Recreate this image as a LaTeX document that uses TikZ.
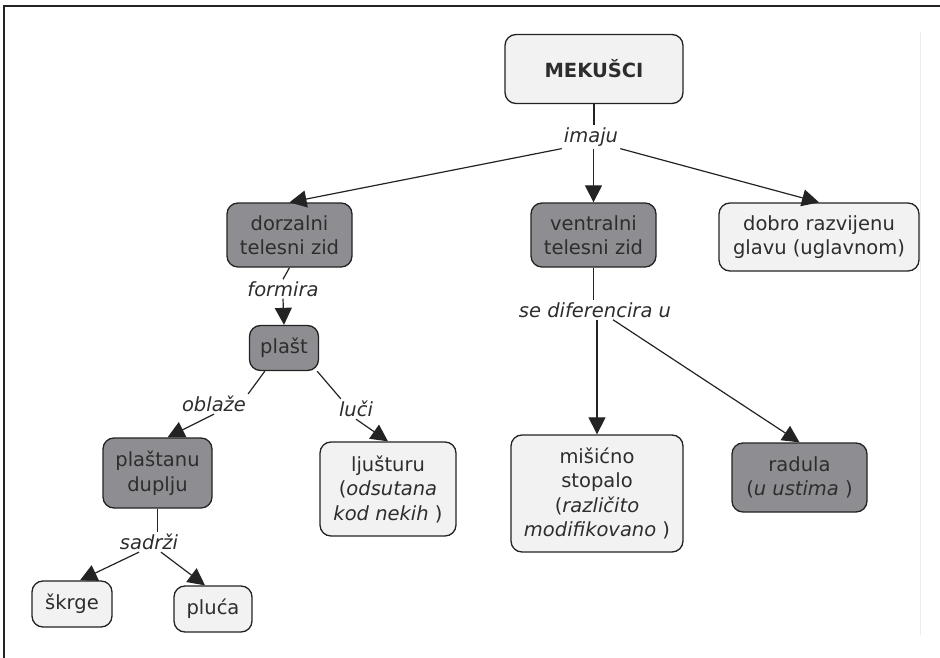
\documentclass[tikz,border=0pt]{standalone}
\usepackage{fontspec}
\setmainfont{DejaVu Sans}
\usetikzlibrary{arrows.meta}
\definecolor{txt}{RGB}{45,45,45}
\definecolor{darkfill}{RGB}{142,142,146}
\definecolor{lightfill}{RGB}{242,242,242}
\definecolor{edge}{RGB}{35,35,35}
\tikzset{
  box/.style={draw=edge, line width=1.3pt, rounded corners=11pt, align=center,
    text=txt, font=\fontsize{19.5}{24.5}\selectfont, inner sep=0pt},
  dbox/.style={box, fill=darkfill},
  lbox/.style={box, fill=lightfill},
  lbl/.style={font=\fontsize{19.5}{24.5}\selectfont\itshape, text=txt, inner sep=2pt},
  con/.style={draw=edge, line width=1.2pt},
  arr/.style={con, -{Triangle[length=17pt,width=17pt]}},
}
\begin{document}
\begin{tikzpicture}[x=1pt,y=-1pt]
\useasboundingbox (0,0) rectangle (940,658);
% frame
\draw[line width=1.4pt, color=edge] (4,658) -- (4,6) -- (940,6);
\draw[line width=1pt, color=black!7] (920,32) -- (920,635);

% nodes
\node[lbox, minimum width=178, minimum height=69, font=\fontsize{19.5}{24.5}\selectfont\bfseries] (mek) at (594,69) {MEKUŠCI};
\node[lbl] (imaju) at (591,137) {imaju};
\node[dbox, minimum width=125, minimum height=64] (dor) at (289.5,235) {dorzalni\\telesni zid};
\node[dbox, minimum width=125, minimum height=64] (ven) at (593.5,235) {ventralni\\telesni zid};
\node[lbox, minimum width=200, minimum height=68] (dob) at (819,237) {dobro razvijenu\\glavu (uglavnom)};
\node[lbl] (formira) at (283,289) {formira};
\node[dbox, minimum width=69, minimum height=45] (plast) at (284,348) {plašt};
\node[lbl] (oblaze) at (214,404) {oblaže};
\node[lbl] (luci) at (356,409) {luči};
\node[dbox, minimum width=109, minimum height=70] (pdup) at (157.5,473) {plaštanu\\duplju};
\node[lbox, minimum width=136, minimum height=94] (lju) at (388,489) {ljušturu\\(\textit{odsutana}\\\textit{kod nekih} )};
\node[lbl] (sadrzi) at (149,542) {sadrži};
\node[lbox, minimum width=80, minimum height=46] (skr) at (72,604) {škrge};
\node[lbox, minimum width=78, minimum height=46] (plu) at (213,609) {pluća};
\node[lbl] (sedif) at (595,310) {se diferencira u};
\node[lbox, minimum width=172, minimum height=117] (mis) at (597,493.5) {mišićno\\stopalo\\(\textit{različito}\\\textit{modifikovano} )};
\node[dbox, minimum width=135, minimum height=69] (rad) at (799.5,477.5) {radula\\(\textit{u ustima} )};

% connectors
\draw[con] (mek.south) -- (imaju.north -| mek.south);
\draw[arr] (imaju.south west) -- (dor.north);
\draw[arr] (imaju.south -| ven.north) -- (ven.north);
\draw[arr] (imaju.south east) -- (dob.north);
\draw[con] (dor.south) -- (formira.north);
\draw[arr] (formira.south) -- (plast.north);
\draw[con] ([xshift=16pt]plast.south west) -- (oblaze.north east);
\draw[arr] (oblaze.south) -- ([xshift=10pt]pdup.north);
\draw[con] ([xshift=-2pt]plast.south east) -- ([xshift=4pt]luci.north west);
\draw[arr] (luci.south) -- (lju.north);
\draw[con] (pdup.south) -- (sadrzi.north -| pdup.south);
\draw[arr] ([xshift=-10pt]sadrzi.south) -- ([xshift=8pt]skr.north);
\draw[arr] ([xshift=12pt]sadrzi.south) -- ([xshift=-8pt]plu.north);
\draw[con] (ven.south) -- (sedif.north -| ven.south);
\draw[arr] (sedif.south -| mis.north) -- (mis.north);
\draw[arr] ([xshift=18pt]sedif.south) -- (rad.north);
\end{tikzpicture}
\end{document}
